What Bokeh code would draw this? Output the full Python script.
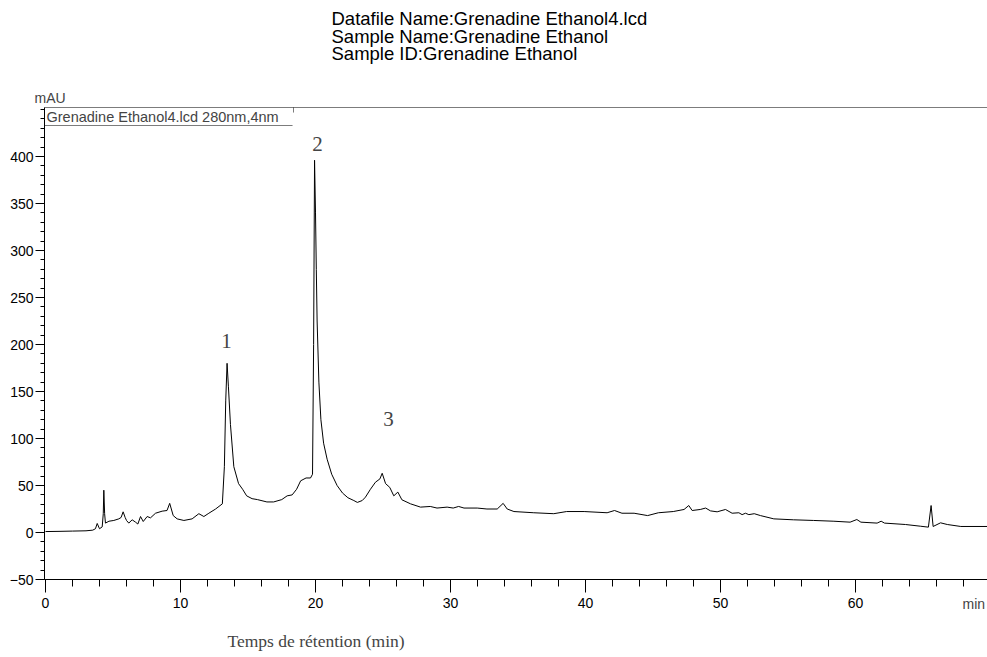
from bokeh.plotting import figure
from bokeh.models import FixedTicker, Label, BoxAnnotation, ColumnDataSource, Range1d
from bokeh.embed import file_html
from bokeh.resources import INLINE

# ---------------- data ----------------
time_min = [
    0.0, 1.0, 2.0, 3.0, 3.5, 3.7, 3.83, 4.0, 4.2, 4.28, 4.32, 4.38, 4.44, 4.7,
    5.06, 5.43, 5.6, 5.75, 5.9, 6.0, 6.17, 6.42, 6.67, 6.84, 7.04, 7.24, 7.53,
    7.78, 8.15, 8.64, 9.0, 9.2, 9.46, 9.75, 10.25, 10.86, 11.36, 11.73, 12.1,
    12.6, 13.1, 13.25, 13.35, 13.45, 13.55, 13.7, 13.95, 14.3, 14.6, 14.9, 15.3,
    15.7, 16.4, 16.9, 17.5, 17.9, 18.27, 18.6, 18.9, 19.3, 19.63, 19.78, 19.86,
    19.93, 20.0, 20.06, 20.12, 20.25, 20.4, 20.6, 20.86, 21.2, 21.6, 22.0, 22.4,
    22.84, 23.1, 23.46, 23.7, 24.07, 24.44, 24.77, 24.94, 25.19, 25.5, 25.8,
    26.1, 26.4, 27.04, 27.78, 28.5, 29.0, 29.75, 30.2, 30.6, 31.0, 31.98, 32.7,
    33.46, 33.9, 34.2, 34.7, 36.17, 37.65, 38.6, 39.9, 41.6, 42.15, 42.7, 43.6,
    44.6, 45.4, 46.5, 47.3, 47.65, 47.9, 48.5, 48.9, 49.26, 49.75, 50.37, 50.86,
    51.36, 51.6, 51.85, 52.1, 52.5, 52.96, 53.95, 55.4, 56.9, 58.4, 59.6, 60.1,
    60.4, 61.6, 61.9, 62.15, 63.7, 64.8, 65.4, 65.6, 65.75, 66.3, 66.8, 67.8,
    69.8,
]
absorbance_mau = [
    1.0, 1.2, 1.5, 1.8, 2.5, 4.0, 9.6, 4.0, 6.0, 20.0, 45.0, 20.0, 10.0, 12.0,
    12.8, 14.5, 16.0, 22.0, 16.0, 12.8, 10.0, 13.5, 11.0, 9.0, 17.0, 11.7, 17.0,
    15.6, 20.5, 22.7, 23.4, 31.0, 18.0, 14.5, 12.8, 14.5, 20.0, 17.0, 20.5,
    25.0, 30.5, 70.0, 140.0, 180.0, 155.0, 115.0, 70.0, 52.0, 46.0, 39.0, 36.0,
    35.0, 32.5, 32.5, 35.0, 39.0, 40.0, 46.0, 55.0, 58.0, 58.0, 62.0, 200.0,
    396.0, 340.0, 280.0, 225.0, 160.0, 120.0, 95.0, 78.0, 62.0, 50.0, 42.0, 37.0,
    34.0, 32.0, 34.0, 37.6, 46.0, 53.5, 57.0, 63.0, 52.0, 48.0, 39.0,
    43.0, 34.8, 30.5, 27.0, 27.7, 26.0, 27.0, 26.0, 27.7, 26.0, 26.0, 25.0,
    25.0, 31.0, 25.0, 22.3, 21.0, 20.0, 22.3, 22.3, 21.0, 23.4, 20.5, 20.5,
    18.0, 21.0, 22.3, 24.5, 28.7, 23.4, 24.5, 26.0, 23.0, 22.0, 24.5, 20.5,
    21.0, 19.0, 20.5, 19.0, 20.0, 18.0, 14.5, 13.5, 12.8, 12.0, 11.0, 13.8,
    11.0, 10.0, 12.0, 10.0, 8.5, 6.7, 5.7, 28.7, 6.4, 10.3, 8.5, 6.4,
    6.4,
]

x_major_ticks = [0, 10, 20, 30, 40, 50, 60]
x_minor_ticks = list(range(0, 70, 2))
y_major_ticks = [-50, 0, 50, 100, 150, 200, 250, 300, 350, 400]
y_minor_ticks = list(range(-50, 451, 10))

header_lines = [
    "Datafile Name:Grenadine Ethanol4.lcd",
    "Sample Name:Grenadine Ethanol",
    "Sample ID:Grenadine Ethanol",
]
trace_label = "Grenadine Ethanol4.lcd 280nm,4nm"
y_unit = "mAU"
x_unit = "min"
x_title = "Temps de rétention (min)"
peak_numbers = ["1", "2", "3"]

# ---------------- layout (picture pixels -> data coordinates) ----------------
# The frame covers the whole canvas; axes are drawn at fixed locations.
X0_PX, PX_PER_MIN = 45.0, 13.5      # picture x of t = 0 min
Y0_PX, PX_PER_MAU = 532.0, 0.94     # picture y of 0 mAU
CANVAS_LEFT, CANVAS_TOP, W, H = 0, 0, 987, 657


def dx(px):
    return (px - X0_PX) / PX_PER_MIN


def dy(py):
    return (Y0_PX - py) / PX_PER_MAU


AXIS_LEFT_PX, AXIS_TOP_PX, AXIS_BOTTOM_PX = 44, 107, 579

SANS = "Liberation Sans"
SERIF = "Liberation Serif"

p = figure(
    width=W, height=H,
    min_border_left=0, min_border_right=0, min_border_top=0, min_border_bottom=0,
    x_range=Range1d(dx(CANVAS_LEFT), dx(CANVAS_LEFT + W)),
    y_range=Range1d(dy(CANVAS_TOP + H), dy(CANVAS_TOP)),
    output_backend="svg", toolbar_location=None,
    background_fill_color="white", border_fill_color="white",
)
p.outline_line_color = None
p.xgrid.visible = False
p.ygrid.visible = False

src = ColumnDataSource(dict(t=time_min, mau=absorbance_mau))
p.line("t", "mau", source=src, line_color="black", line_width=1)

# axes drawn at fixed locations inside the frame
xa = p.xaxis[0]
xa.fixed_location = dy(AXIS_BOTTOM_PX)
xa.bounds = (dx(AXIS_LEFT_PX), dx(CANVAS_LEFT + W))
xa.ticker = FixedTicker(ticks=x_major_ticks, minor_ticks=x_minor_ticks)
xa.major_tick_out = 13
xa.major_tick_in = 0
xa.minor_tick_out = 7
xa.minor_tick_in = 0
xa.major_label_standoff = 5
xa.major_label_text_font = SANS
xa.major_label_text_font_size = "14px"
xa.major_label_text_color = "black"
xa.axis_line_color = "black"
xa.major_tick_line_color = "black"
xa.minor_tick_line_color = "black"

ya = p.yaxis[0]
ya.fixed_location = dx(AXIS_LEFT_PX)
ya.bounds = (dy(AXIS_BOTTOM_PX), dy(AXIS_TOP_PX))
ya.ticker = FixedTicker(ticks=y_major_ticks, minor_ticks=y_minor_ticks)
ya.major_tick_out = 9
ya.major_tick_in = 0
ya.minor_tick_out = 4
ya.minor_tick_in = 0
ya.major_label_standoff = 2
ya.major_label_text_font = SANS
ya.major_label_text_font_size = "14px"
ya.major_label_text_color = "black"
ya.axis_line_color = "black"
ya.major_tick_line_color = "black"
ya.minor_tick_line_color = "black"

# top border of the plot area
p.add_layout(BoxAnnotation(left=dx(AXIS_LEFT_PX), bottom=dy(AXIS_TOP_PX), top=dy(AXIS_TOP_PX),
                           fill_alpha=0, line_color="black", line_width=1))

# header
for i, line in enumerate(header_lines):
    p.add_layout(Label(x=dx(331), y=dy(18 + 17.5 * i), text=line, text_font=SANS,
                       text_font_size="18.5px", text_align="left", text_baseline="middle",
                       text_color="black"))

# unit labels
p.add_layout(Label(x=dx(34), y=dy(97), text=y_unit, text_font=SANS, text_font_size="14px",
                   text_align="left", text_baseline="middle"))
p.add_layout(Label(x=dx(962), y=dy(603), text=x_unit, text_font=SANS, text_font_size="14px",
                   text_align="left", text_baseline="middle"))

# trace label box
p.add_layout(Label(x=dx(46), y=dy(116), text=trace_label, text_font=SANS, text_font_size="14.5px",
                   text_align="left", text_baseline="middle"))
p.add_layout(BoxAnnotation(left=dx(AXIS_LEFT_PX), right=dx(292), bottom=dy(125), top=dy(125),
                           fill_alpha=0, line_color="black", line_width=1))
p.add_layout(BoxAnnotation(left=dx(293), right=dx(293), bottom=dy(112), top=dy(AXIS_TOP_PX),
                           fill_alpha=0, line_color="black", line_width=1))

# peak numbers
for txt, px, py in zip(peak_numbers, [226, 317, 388], [340, 143, 418]):
    p.add_layout(Label(x=dx(px), y=dy(py), text=txt, text_font=SERIF, text_font_size="21px",
                       text_align="center", text_baseline="middle"))

# x title
p.add_layout(Label(x=dx(227), y=dy(640), text=x_title, text_font=SERIF, text_font_size="17.5px",
                   text_align="left", text_baseline="middle"))

open("out.html", "w").write(file_html(p, INLINE))
